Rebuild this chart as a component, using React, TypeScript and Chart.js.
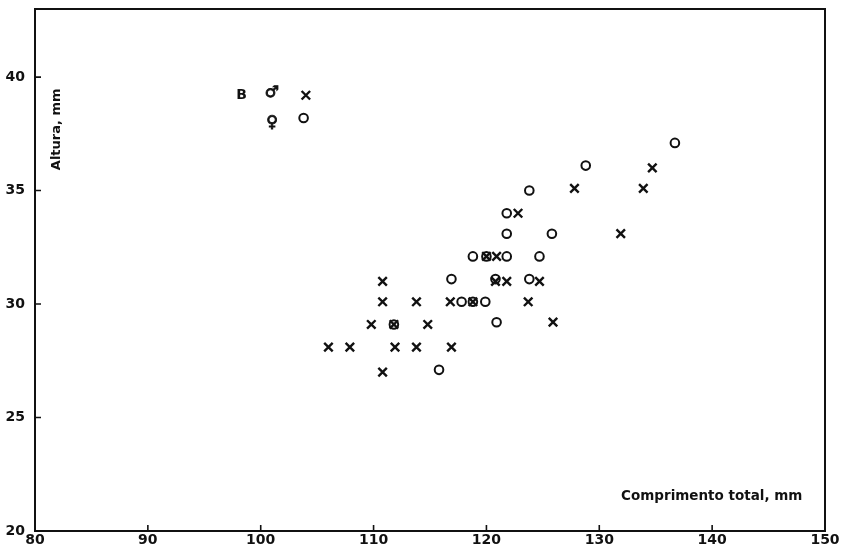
import { useEffect, useRef } from "react";
import { Chart, registerables } from "chart.js";

Chart.register(...registerables);

// Axis ticks
const xTicks = [80, 90, 100, 110, 120, 130, 140, 150];
const yTicks = [20, 25, 30, 35, 40];

// Males (X markers): total length (mm) and height (mm)
const malesX = [120.0, 120.9, 110.8, 120.8, 121.8, 124.7, 110.8, 113.8, 116.8, 118.8, 123.7, 109.8, 111.8, 114.8, 125.9, 106.0, 107.9, 111.9, 113.8, 116.9, 110.8, 131.9, 122.8, 127.8, 133.9, 134.7];
const malesY = [32.1, 32.1, 31.0, 31.0, 31.0, 31.0, 30.1, 30.1, 30.1, 30.1, 30.1, 29.1, 29.1, 29.1, 29.2, 28.1, 28.1, 28.1, 28.1, 28.1, 27.0, 33.1, 34.0, 35.1, 35.1, 36.0];

// Females (O markers)
const femalesX = [118.8, 120.0, 121.8, 124.7, 116.9, 120.8, 123.8, 117.8, 118.8, 119.9, 111.8, 120.9, 115.8, 121.8, 125.8, 121.8, 123.8, 128.8, 136.7];
const femalesY = [32.1, 32.1, 32.1, 32.1, 31.1, 31.1, 31.1, 30.1, 30.1, 30.1, 29.1, 29.2, 27.1, 33.1, 33.1, 34.0, 35.0, 36.1, 37.1];

// Key in the upper left: symbols and their markers
const keyText = ["B", "\u2642", "\u2640"];
const keyTextX = [98.3, 101.0, 101.0];
const keyTextY = [39.2, 39.3, 38.0];
const keyMaleX = [104.0];
const keyMaleY = [39.2];
const keyFemaleX = [103.8];
const keyFemaleY = [38.2];

// Axis titles (placed inside the frame)
const yTitle = "Altura, mm";
const yTitlePos = [81.95, 37.7];
const xTitle = "Comprimento total, mm";
const xTitlePos = [148.0, 21.5];

const INK = "#111111";
const FONT = "'DejaVu Sans', sans-serif";

const pts = (xs: number[], ys: number[]) => xs.map((x, i) => ({ x, y: ys[i] }));

export default function App() {
  const ref = useRef<HTMLCanvasElement | null>(null);

  useEffect(() => {
    if (!ref.current) return;

    const framePlugin = {
      id: "frameAndText",
      afterDraw(chart: any) {
        const { ctx, chartArea } = chart;
        const xs = chart.scales.x;
        const ys = chart.scales.y;
        ctx.save();
        ctx.strokeStyle = INK;
        ctx.lineWidth = 2;
        ctx.strokeRect(chartArea.left, chartArea.top, chartArea.right - chartArea.left, chartArea.bottom - chartArea.top);
        // inward ticks
        ctx.lineWidth = 1.6;
        ctx.beginPath();
        xTicks.slice(1, -1).forEach((v) => {
          const px = xs.getPixelForValue(v);
          ctx.moveTo(px, chartArea.bottom);
          ctx.lineTo(px, chartArea.bottom - 6);
        });
        yTicks.slice(1).forEach((v) => {
          const py = ys.getPixelForValue(v);
          ctx.moveTo(chartArea.left, py);
          ctx.lineTo(chartArea.left + 6, py);
        });
        ctx.stroke();

        ctx.fillStyle = INK;
        // y title rotated
        ctx.font = `bold 13px ${FONT}`;
        ctx.save();
        ctx.translate(xs.getPixelForValue(yTitlePos[0]), ys.getPixelForValue(yTitlePos[1]));
        ctx.rotate(-Math.PI / 2);
        ctx.textAlign = "center";
        ctx.textBaseline = "middle";
        ctx.fillText(yTitle, 0, 0);
        ctx.restore();
        // x title
        ctx.font = `bold 13.5px ${FONT}`;
        ctx.textAlign = "right";
        ctx.textBaseline = "middle";
        ctx.fillText(xTitle, xs.getPixelForValue(xTitlePos[0]), ys.getPixelForValue(xTitlePos[1]));
        // key symbols
        ctx.textAlign = "center";
        ctx.lineWidth = 0.9;
        keyText.forEach((t, i) => {
          ctx.font = i === 0 ? `bold 14px ${FONT}` : `bold 16px ${FONT}`;
          const px = xs.getPixelForValue(keyTextX[i]);
          const py = ys.getPixelForValue(keyTextY[i]);
          ctx.fillText(t, px, py);
          if (i > 0) ctx.strokeText(t, px, py);
        });
        ctx.restore();
      },
    };

    const crossStyle = {
      pointStyle: "crossRot" as const,
      pointRadius: 6,
      borderWidth: 2.4,
      borderColor: INK,
      backgroundColor: INK,
      showLine: false,
    };
    const circleStyle = {
      pointStyle: "circle" as const,
      pointRadius: 4.3,
      borderWidth: 2,
      borderColor: INK,
      backgroundColor: "rgba(255,255,255,0)",
      showLine: false,
    };

    const chart = new Chart(ref.current, {
      type: "scatter",
      data: {
        datasets: [
          { label: "\u2642", data: pts(malesX, malesY), ...crossStyle },
          { label: "\u2640", data: pts(femalesX, femalesY), ...circleStyle },
          { label: "key \u2642", data: pts(keyMaleX, keyMaleY), ...crossStyle },
          { label: "key \u2640", data: pts(keyFemaleX, keyFemaleY), ...circleStyle },
        ],
      },
      options: {
        animation: false,
        responsive: true,
        maintainAspectRatio: false,
        layout: { padding: { top: 9, right: 19, left: 0, bottom: 0 } },
        plugins: { legend: { display: false }, tooltip: { enabled: false } },
        scales: {
          x: {
            type: "linear",
            min: 80,
            max: 150,
            grid: { display: false, drawTicks: false, tickLength: 0 },
            border: { display: false },
            afterBuildTicks: (s: any) => {
              s.ticks = xTicks.map((v) => ({ value: v }));
            },
            afterFit: (s: any) => {
              s.height = 23;
              s.paddingLeft = 0;
              s.paddingRight = 0;
            },
            ticks: {
              color: INK,
              padding: 1,
              maxRotation: 0,
              autoSkip: false,
              font: { family: FONT, size: 14, weight: "bold" },
            },
          },
          y: {
            type: "linear",
            min: 20,
            max: 43,
            grid: { display: false, drawTicks: false, tickLength: 0 },
            border: { display: false },
            afterBuildTicks: (s: any) => {
              s.ticks = yTicks.map((v) => ({ value: v }));
            },
            afterFit: (s: any) => {
              s.width = 35;
              s.paddingTop = 0;
              s.paddingBottom = 0;
            },
            ticks: {
              color: INK,
              padding: 10,
              autoSkip: false,
              font: { family: FONT, size: 14, weight: "bold" },
            },
          },
        },
      },
      plugins: [framePlugin],
    });

    return () => chart.destroy();
  }, []);

  return (
    <div style={{ position: "fixed", left: 0, top: 0, width: 844, height: 554, background: "#fff" }}>
      <canvas ref={ref} />
    </div>
  );
}
